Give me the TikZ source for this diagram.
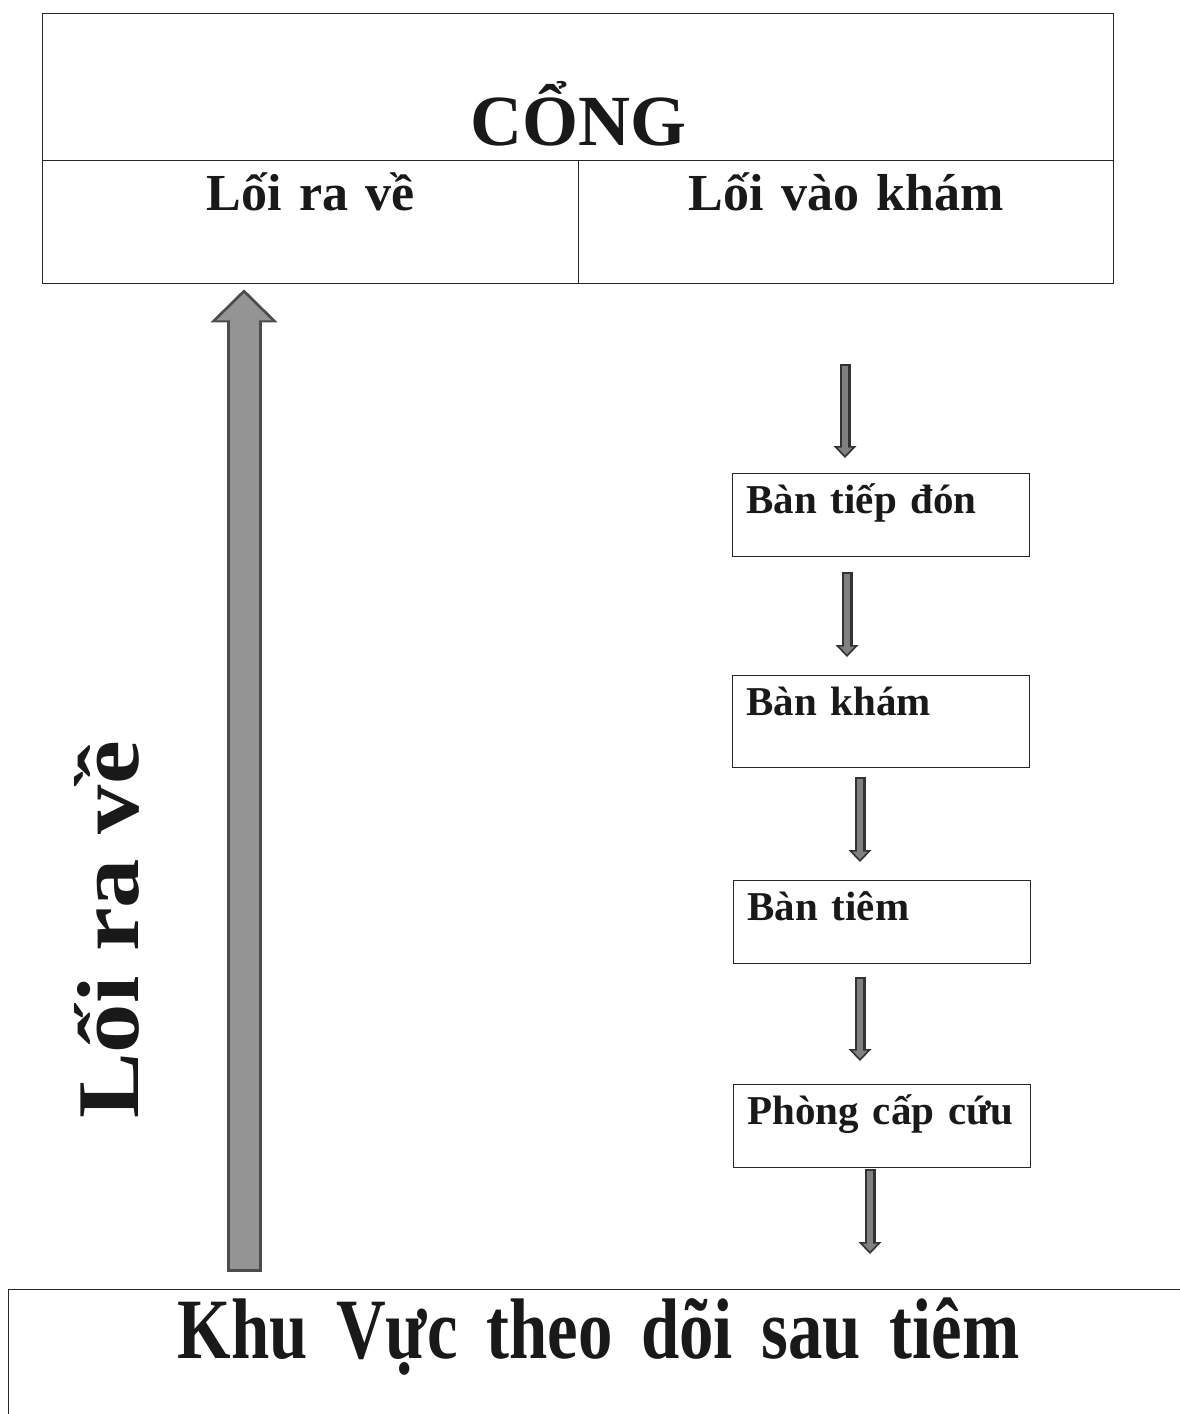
\documentclass[tikz,border=0pt]{standalone}
\usepackage{fontspec}
\setmainfont{Liberation Serif}
\newfontfamily\narrowfont[FakeStretch=0.80]{Liberation Serif}
\newfontfamily\widefont[FakeStretch=1.12]{Liberation Serif}
\usetikzlibrary{arrows.meta,calc,positioning}

\begin{document}
\begin{tikzpicture}[x=1pt,y=-1pt]

\tikzset{
    cell/.style={draw=black!85,line width=1.3pt,inner sep=0pt,align=center,anchor=north west,text=black!90},
    station/.style={draw=black!85,line width=1.1pt,inner xsep=14pt,inner ysep=0pt,text width=269pt,align=left,
        anchor=north west,text height=40pt,text depth=#1,text=black!90,font=\bfseries\fontsize{41}{45}\selectfont},
    bigarrow/.style={draw=black!70,line width=35pt,-{Triangle[length=33pt,width=67pt,line width=0pt]},
        postaction={draw=black!42,line width=29pt,-{Triangle[length=27pt,width=55pt,line width=0pt]},shorten >=4pt,shorten <=3pt}},
    smallarrow/.style={draw=black!80,line width=11pt,-{Triangle[length=12pt,width=23pt,line width=0pt]},
        postaction={draw=black!50,line width=6pt,-{Triangle[length=8pt,width=15pt,line width=0pt]},shorten >=2.5pt,shorten <=2pt}}}

\useasboundingbox (0,0) rectangle (1179,1414);

\node[cell, text width=1071pt, text height=132pt, text depth=15pt, font=\bfseries\fontsize{72}{80}\selectfont] (cong) at (42,13) {CỔNG};
\node[cell, text width=536pt, text height=50pt, text depth=73pt, font=\bfseries\fontsize{52}{56}\selectfont] (ra) at (42,160) {Lối ra về};
\node[cell, text width=535pt, text height=50pt, text depth=73pt, font=\bfseries\fontsize{52}{56}\selectfont] (vao) at (578,160) {Lối vào khám};

\node[station=43pt] (b1) at (732,473) {Bàn tiếp đón};
\node[station=52pt] (b2) at (732,675) {Bàn khám};
\node[station=43pt] (b3) at (733,880) {Bàn tiêm};
\node[station=43pt] (b4) at (733,1084) {Phòng cấp cứu};

\node[cell, text width=1180pt, text height=69pt, text depth=90pt, font=\narrowfont\bfseries\fontsize{86}{90}\selectfont] (khu) at (8,1289) {Khu Vực theo dõi sau tiêm};

\node[rotate=90, anchor=base, text=black!90, font=\widefont\bfseries\fontsize{88}{92}\selectfont] (doc) at (138,930) {Lối ra về};

\draw[bigarrow] ($(khu.north west)+(236,-17)$) -- ($(ra.south west)+(202,5)$);

\draw[smallarrow] ($(vao.south west)+(267,80)$) -- ($(b1.north west)+(113,-15)$);
\draw[smallarrow] ($(b1.south west)+(115,15)$) -- ($(b2.north west)+(115,-18)$);
\draw[smallarrow] ($(b2.south west)+(128,9)$) -- ($(b3.north west)+(127,-18)$);
\draw[smallarrow] ($(b3.south west)+(127,13)$) -- ($(b4.north west)+(127,-23)$);
\draw[smallarrow] ($(b4.south west)+(137,1)$) -- ($(khu.north west)+(862,-35)$);

\end{tikzpicture}
\end{document}
